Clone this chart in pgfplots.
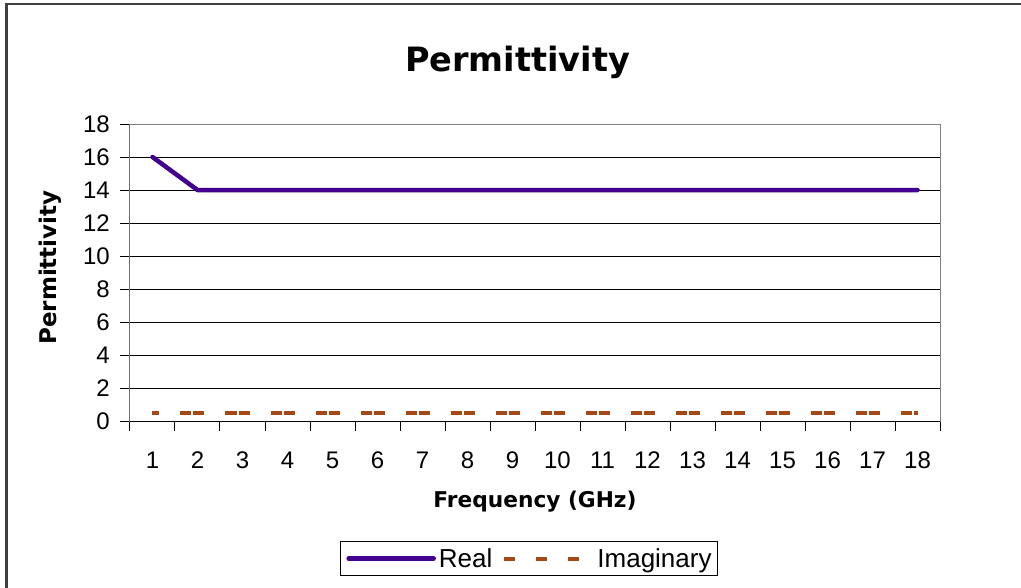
\documentclass[border=0pt]{standalone}
\usepackage{pgfplots}
\pgfplotsset{compat=1.18}
\usepackage{fontspec}
\setmainfont{Liberation Sans}
\newfontfamily\vfont{DejaVu Sans}
\definecolor{realc}{RGB}{66,0,142}
\definecolor{imagc}{RGB}{165,72,22}
\definecolor{framec}{RGB}{64,64,64}
\begin{document}
\begin{tikzpicture}
\useasboundingbox (0pt,0pt) rectangle (1021pt,-587pt);
\fill[white] (0pt,0pt) rectangle (1021pt,-587pt);
\draw[framec, line width=2.5pt] (6.5pt,-590pt) -- (6.5pt,-4pt) -- (1025pt,-4pt);
\begin{axis}[
  at={(130pt,-421pt)}, anchor=south west,
  scale only axis, width=810pt, height=297pt,
  xmin=0.5, xmax=18.5, ymin=0, ymax=18,
  xtick={0.5,1.5,...,18.5}, xticklabels={},
  extra x ticks={1,2,...,18},
  extra x tick labels={1,2,3,4,5,6,7,8,9,10,11,12,13,14,15,16,17,18},
  extra x tick style={major tick length=0pt, grid=none,
    xticklabel style={anchor=base, yshift=-47pt}},
  ytick={0,2,...,18},
  ymajorgrids, grid style={black, line width=1pt},
  tick align=outside, major tick length=10pt,
  xtick pos=bottom, ytick pos=left,
  tick style={black, line width=1pt},
  axis line style={draw=gray, line width=1pt},
  /pgf/number format/assume math mode=true,
  tick label style={font=\fontsize{24}{28}\selectfont},
  yticklabel style={anchor=east, inner sep=0pt, xshift=-10pt},
  title={Permittivity},
  title style={at={(axis description cs:0.4784,1.158)}, anchor=base,
    font=\vfont\bfseries\fontsize{33.5}{40}\selectfont},
  xlabel={Frequency (GHz)},
  xlabel style={at={(axis description cs:0.5,-0.2896)}, anchor=base,
    font=\vfont\bfseries\fontsize{21.7}{26}\selectfont},
  ylabel={Permittivity},
  ylabel style={at={(axis description cs:-0.0988,0.517)}, anchor=center, rotate=0,
    font=\vfont\bfseries\fontsize{23}{27}\selectfont},
  legend columns=-1,
  legend style={at={(axis description cs:0.4926,-0.463)}, anchor=center,
    draw=black, line width=1.5pt, inner xsep=6pt, inner ysep=7pt,
    font=\fontsize{26}{30}\selectfont,
    nodes={inner sep=0pt},
    /tikz/every odd column/.append style={column sep=3pt},
    /tikz/every even column/.append style={column sep=10pt}},
]
\addplot[realc, line width=4.5pt, line join=round, line cap=round,
  legend image code/.code={\draw[realc, line width=4.5pt, line cap=round] (0pt,0pt) -- (85pt,0pt);}]
  coordinates {(1,16) (2,14) (3,14) (4,14) (5,14) (6,14) (7,14) (8,14) (9,14)
    (10,14) (11,14) (12,14) (13,14) (14,14) (15,14) (16,14) (17,14) (18,14)};
\addlegendentry{Real}
\addplot[imagc, line width=4pt, dash pattern=on 11pt off 2pt on 11pt off 21pt, dash phase=17pt,
  legend image code/.code={\draw[imagc, line width=4pt, dash pattern=on 11pt off 21pt, dash phase=0pt] (0pt,0pt) -- (75pt,0pt); \path[draw=none] (0pt,0pt) (90pt,0pt);}]
  coordinates {(1,0.5) (2,0.5) (3,0.5) (4,0.5) (5,0.5) (6,0.5) (7,0.5) (8,0.5) (9,0.5)
    (10,0.5) (11,0.5) (12,0.5) (13,0.5) (14,0.5) (15,0.5) (16,0.5) (17,0.5) (18,0.5)};
\addlegendentry{Imaginary}
\draw[black, line width=1pt] (rel axis cs:0,1) -- (rel axis cs:0,0) -- (rel axis cs:1,0);
\end{axis}
\end{tikzpicture}
\end{document}
